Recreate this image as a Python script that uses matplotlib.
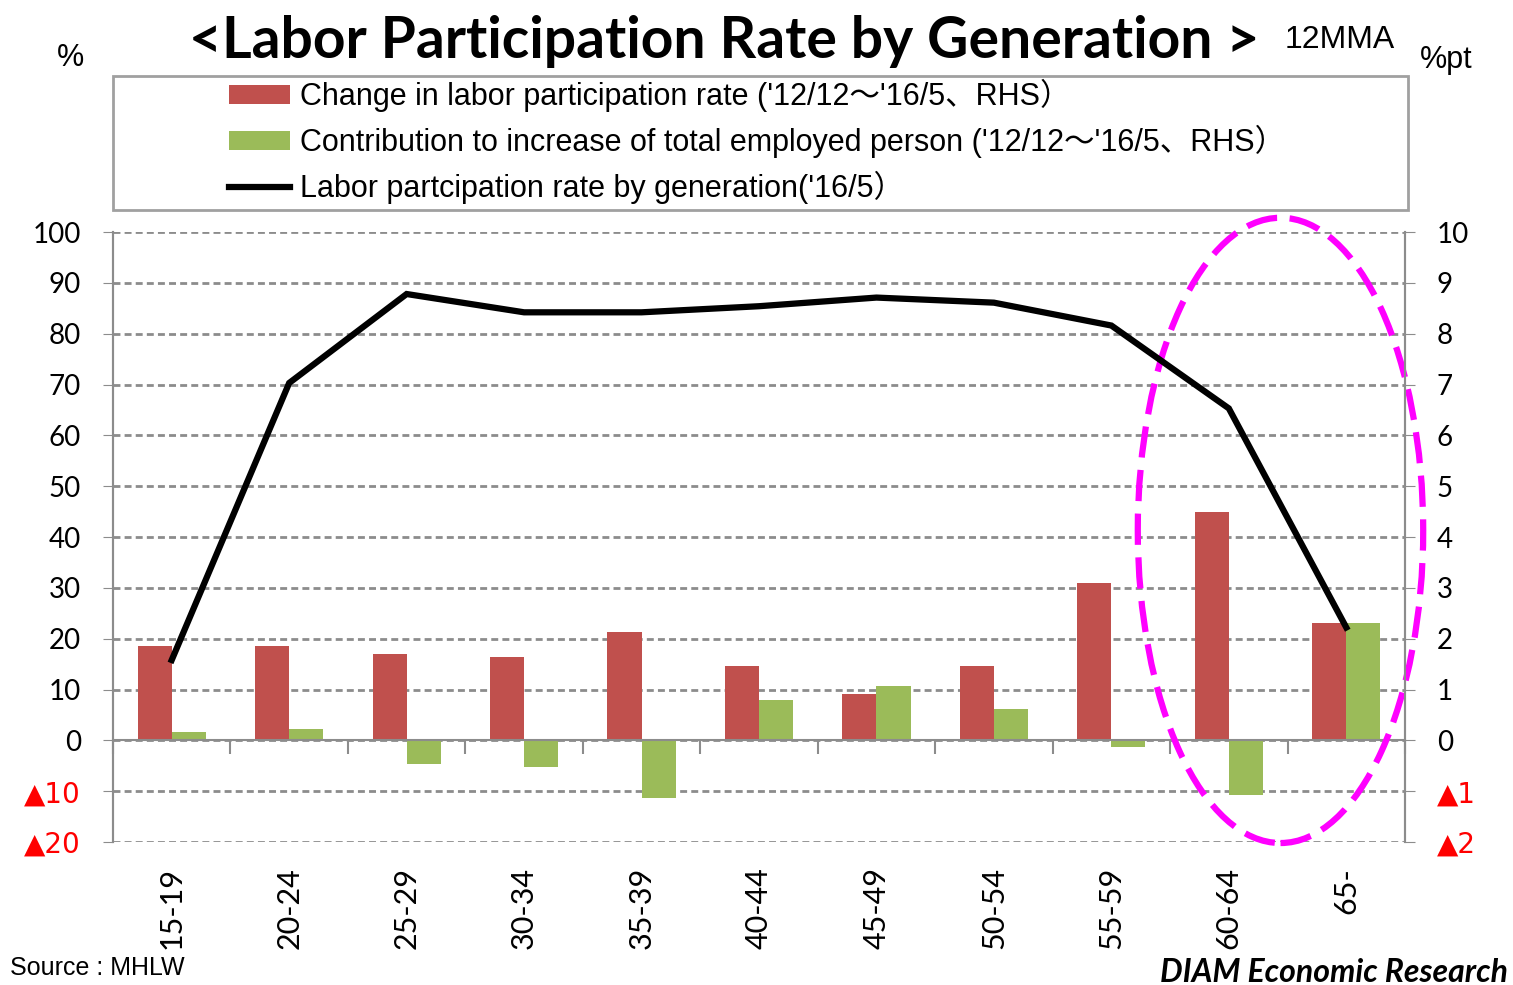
import matplotlib
matplotlib.use("Agg")
import matplotlib.pyplot as plt
from matplotlib.patches import Ellipse, Rectangle, Patch
from matplotlib.lines import Line2D
from matplotlib.ticker import FixedLocator
import numpy as np

# data
generations = ["15-19", "20-24", "25-29", "30-34", "35-39", "40-44",
               "45-49", "50-54", "55-59", "60-64", "65-"]
change_rate = [1.86, 1.86, 1.70, 1.63, 2.14, 1.47, 0.91, 1.47, 3.10, 4.50, 2.30]   # RHS, %pt
contribution = [0.17, 0.23, -0.47, -0.53, -1.14, 0.80, 1.07, 0.62, -0.13, -1.08, 2.30]  # RHS, %pt
participation = [15.8, 70.3, 87.8, 84.2, 84.2, 85.4, 87.1, 86.1, 81.6, 65.3, 22.2]  # LHS, %

left_ticks = [-20, -10, 0, 10, 20, 30, 40, 50, 60, 70, 80, 90, 100]
left_labels = ["▲20", "▲10", "0", "10", "20", "30", "40", "50", "60", "70", "80", "90", "100"]
right_ticks = [-2, -1, 0, 1, 2, 3, 4, 5, 6, 7, 8, 9, 10]
right_labels = ["▲2", "▲1", "0", "1", "2", "3", "4", "5", "6", "7", "8", "9", "10"]

RED = "#C0504D"
GREEN = "#9BBB59"
GRID = "#8C8C8C"
NUM_FONT = ["Lato", "DejaVu Sans"]
NARROW = ["Liberation Sans Narrow", "Liberation Sans", "Noto Sans CJK JP", "DejaVu Sans"]

W, H = 1513, 985
fig = plt.figure(figsize=(W / 100, H / 100), dpi=100)
ax = fig.add_axes([113 / W, 1 - 842 / H, (1405 - 113) / W, (842 - 232) / H])
ax2 = ax.twinx()

x = np.arange(len(generations))
bw = 0.29

# bars on the right-hand scale
ax2.bar(x - bw / 2, change_rate, width=bw, color=RED, zorder=2)
ax2.bar(x + bw / 2, contribution, width=bw, color=GREEN, zorder=2)
ax2.set_ylim(-2, 10)
ax2.set_axisbelow(True)
ax2.grid(axis="y", color=GRID, linestyle=(0, (2.5, 1.5)), linewidth=2)

# line on the left-hand scale, drawn above the bars
ax.plot(x, participation, color="black", linewidth=4.5, solid_joinstyle="miter", zorder=3)
ax.set_ylim(-20, 100)
ax.set_xlim(-0.5, len(generations) - 0.5)
ax.set_zorder(ax2.get_zorder() + 1)
ax.patch.set_visible(False)

# y ticks
ax.set_yticks(left_ticks)
ax.set_yticklabels(left_labels, fontsize=20, family=NUM_FONT)
ax2.set_yticks(right_ticks)
ax2.set_yticklabels(right_labels, fontsize=20, family=NUM_FONT)
for lab in ax.get_yticklabels() + ax2.get_yticklabels():
    if lab.get_text().startswith("▲"):
        lab.set_color("red")
        lab.set_family(["DejaVu Sans"] + NUM_FONT)
ax.tick_params(axis="y", length=7, color=GRID, pad=16)
ax2.tick_params(axis="y", length=7, color=GRID, pad=16)

# x ticks: labels at the centers (below the plot), marks at boundaries on the zero line
ax.xaxis.set_major_locator(FixedLocator(x))
ax.xaxis.set_minor_locator(FixedLocator(np.arange(len(generations) + 1) - 0.5))
ax.set_xticklabels(generations, rotation=90, fontsize=22, family=NUM_FONT)
ax.tick_params(axis="x", which="both", length=0, pad=18)
ax2.xaxis.set_visible(True)
ax2.spines["bottom"].set_position(("data", 0))
ax2.tick_params(axis="x", which="major", length=0, labelbottom=False)
ax2.tick_params(axis="x", which="minor", length=10, width=1.5, color=GRID,
                direction="out", labelbottom=False)

for a in (ax, ax2):
    a.spines["top"].set_visible(False)
    a.spines["bottom"].set_visible(False)
    a.spines["left"].set_color(GRID)
    a.spines["right"].set_color(GRID)
    a.spines["left"].set_linewidth(1.5)
    a.spines["right"].set_linewidth(1.5)
ax2.spines["bottom"].set_visible(True)
ax2.spines["bottom"].set_color(GRID)
ax2.spines["bottom"].set_linewidth(1.5)

# highlight ellipse around 60-64 / 65-
ell = Ellipse((9.44, 4.13), 2.43, 12.3, transform=ax2.transData, fill=False,
              edgecolor="#FF00FF", linewidth=4.5, linestyle=(0, (5, 2)),
              clip_on=False, zorder=5)
ax2.add_patch(ell)

# legend with its own box
fig.patches.append(Rectangle((113 / W, 1 - 210 / H), 1295 / W, 134 / H,
                             transform=fig.transFigure, fill=False,
                             edgecolor="#A0A0A0", linewidth=2))
handles = [Patch(facecolor=RED, edgecolor="none"),
           Patch(facecolor=GREEN, edgecolor="none"),
           Line2D([], [], color="black", linewidth=4.5)]
labels = ["Change in labor participation rate ('12/12～'16/5、RHS）",
          "Contribution to increase of total employed person ('12/12～'16/5、RHS）",
          "Labor partcipation rate by generation('16/5）"]
fig.legend(handles, labels, loc="upper left", bbox_to_anchor=(229 / W, 1 - 79 / H),
           frameon=False, borderpad=0, borderaxespad=0,
           handlelength=2.0, handleheight=0.6, handletextpad=0.32,
           labelspacing=0.42, prop={"family": NARROW, "size": 22})

# titles and notes
fig.text(724 / W, 1 - 42 / H, "<Labor Participation Rate by Generation >",
         ha="center", va="center", fontsize=41, fontweight="bold", family=NUM_FONT)
fig.text(1285 / W, 1 - 40 / H, "12MMA", ha="left", va="center", fontsize=23, family=NARROW)
fig.text(70 / W, 1 - 58 / H, "%", ha="center", va="center", fontsize=22, family=NARROW)
fig.text(1446 / W, 1 - 60 / H, "%pt", ha="center", va="center", fontsize=22, family=NARROW)
fig.text(10 / W, 1 - 968 / H, "Source : MHLW", ha="left", va="center", fontsize=18, family=NARROW)
fig.text(1508 / W, 1 - 972 / H, "DIAM Economic Research", ha="right", va="center",
         fontsize=23, fontweight="bold", fontstyle="italic", family=NUM_FONT)

fig.savefig("out.png", dpi=100)
